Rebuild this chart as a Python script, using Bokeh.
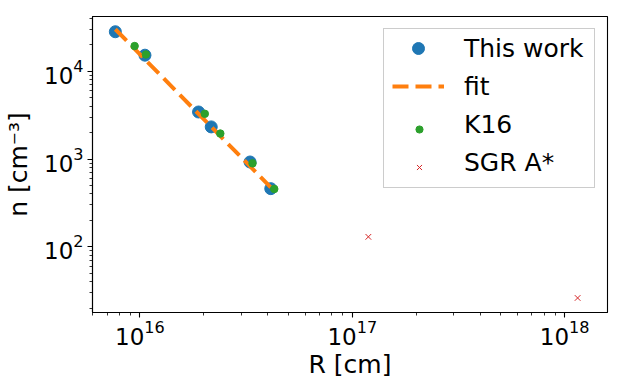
from bokeh.plotting import figure
from bokeh.models import Legend, LegendItem
from bokeh.embed import file_html
from bokeh.resources import INLINE

# "This work"
work_r = [7.66e15, 1.056e16, 1.888e16, 2.166e16, 3.30e16, 4.13e16]
work_n = [2.81e4, 1.52e4, 3.43e3, 2.32e3, 925, 460]

# fit line (power law endpoints)
fit_r = [7.66e15, 4.13e16]
fit_n = [3.0e4, 476]

# K16
k16_r = [9.44e15, 1.067e16, 2.02e16, 2.39e16, 3.39e16, 4.29e16]
k16_n = [1.93e4, 1.55e4, 3.27e3, 1.95e3, 893, 456]

# SGR A*
sgr_r = [1.19e17, 1.15e18]
sgr_n = [130, 26.2]

labels = ["This work", "fit", "K16", "SGR A*"]

FONT = "DejaVu Sans"

p = figure(frame_width=515, frame_height=296, x_axis_type="log", y_axis_type="log",
           x_range=(5.98e15, 1.59e18), y_range=(17.9, 4.19e4),
           output_backend="svg", toolbar_location=None,
           min_border_left=85, min_border_right=3, min_border_top=16,
           min_border_bottom=10)

p.grid.visible = False
p.outline_line_color = "black"
p.outline_line_width = 1.1
p.background_fill_color = "white"
p.border_fill_color = "white"

r_work = p.scatter(work_r, work_n, size=12, color="#1f77b4", marker="circle")
r_fit = p.line(fit_r, fit_n, line_color="#ff7f0e", line_width=4, line_dash="16 7")
r_k16 = p.scatter(k16_r, k16_n, size=7.5, color="#2ca02c", marker="circle")
r_sgr = p.scatter(sgr_r, sgr_n, size=8, line_color="#d62728", marker="x", line_width=1)

# invisible placeholder for legend layout
r_none = p.scatter([], [], size=1, fill_alpha=0, line_alpha=0)

for ax in (p.xaxis[0], p.yaxis[0]):
    ax.major_label_text_font = FONT
    ax.major_label_text_font_size = "23px"
    ax.major_label_text_color = "black"
    ax.axis_label_text_font = FONT
    ax.axis_label_text_font_size = "25px"
    ax.axis_label_text_font_style = "normal"
    ax.axis_label_text_color = "black"
    ax.major_tick_out = 5
    ax.major_tick_in = 0
    ax.minor_tick_out = 3
    ax.minor_tick_in = 0
    ax.major_tick_line_width = 1.1
    ax.minor_tick_line_width = 0.8
    ax.axis_line_width = 1.1
    ax.major_tick_line_color = "black"
    ax.minor_tick_line_color = "black"

p.xaxis.axis_label = "R [cm]"
p.yaxis.axis_label = "n [cm⁻³]"
p.xaxis.major_label_standoff = 2
p.yaxis.major_label_standoff = 4
p.xaxis.axis_label_standoff = 2
p.yaxis.axis_label_standoff = 8


def make_legend(item_labels, renderers, pad, gw, gh, border, bg):
    lg = Legend(items=[LegendItem(label=l, renderers=[r])
                       for l, r in zip(item_labels, renderers)],
                location="top_right")
    lg.margin = 12
    lg.padding = pad
    lg.spacing = 8
    lg.glyph_width = gw
    lg.glyph_height = gh
    lg.label_height = 30
    lg.label_width = 122
    lg.label_standoff = 20
    lg.label_text_font = FONT
    lg.label_text_font_size = "25px"
    lg.label_text_color = "black"
    lg.border_line_color = "#cccccc"
    lg.border_line_alpha = 1 if border else 0
    lg.border_line_width = 1
    lg.background_fill_color = "white"
    lg.background_fill_alpha = 0.8 if bg else 0
    return lg


# main legend: box, labels, large marker and dashed line
legend_a = make_legend(labels, [r_work, r_fit, r_none, r_none],
                       dict(left=8, right=8, top=4, bottom=10), 52, 30, True, True)
# overlay legend without text: smaller markers for K16 and SGR A*
legend_b = make_legend(["", "", "", ""], [r_none, r_none, r_k16, r_sgr],
                       dict(left=14, right=14, top=10, bottom=16), 40, 18, False, False)
p.add_layout(legend_a)
p.add_layout(legend_b)

open("out.html", "w").write(file_html(p, INLINE))
